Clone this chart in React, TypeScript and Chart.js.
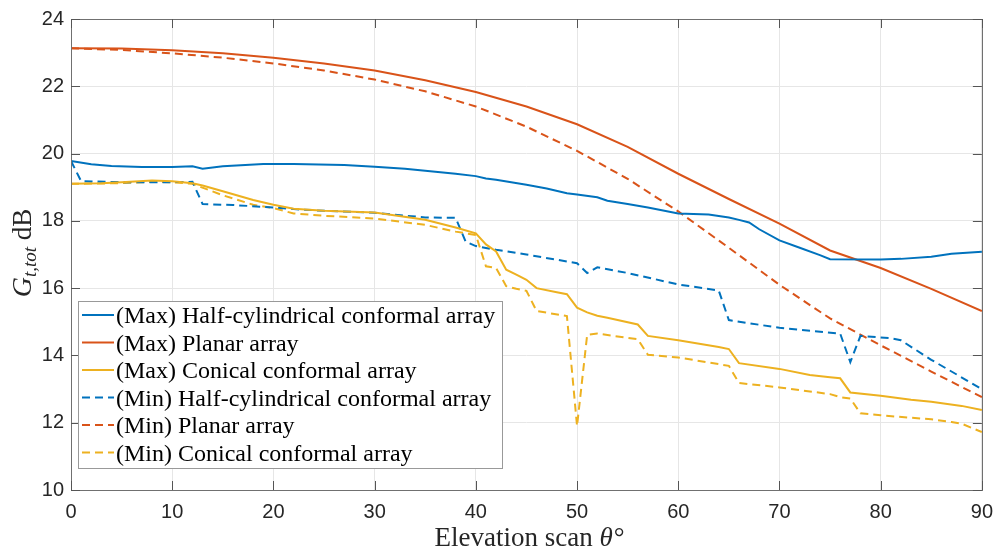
import React, { useEffect, useRef } from "react";
import { Chart, registerables } from "chart.js";

Chart.register(...registerables);

// ---- Data ----
const maxHalfCylX = [0, 2, 4, 7, 10, 12, 13, 15, 19, 22, 27, 30, 33, 35, 38, 40, 41, 42, 45, 47, 49, 50, 52, 53, 55, 57, 60, 63, 65, 66, 67, 68, 70, 72, 74, 75, 80, 82, 85, 87, 90];
const maxHalfCylY = [19.78, 19.68, 19.63, 19.6, 19.6, 19.62, 19.55, 19.62, 19.69, 19.69, 19.66, 19.61, 19.55, 19.49, 19.4, 19.33, 19.26, 19.22, 19.07, 18.96, 18.82, 18.78, 18.7, 18.6, 18.5, 18.4, 18.22, 18.19, 18.1, 18.03, 17.95, 17.75, 17.42, 17.2, 16.98, 16.86, 16.85, 16.87, 16.93, 17.02, 17.08];

const planarX = [0, 5, 10, 15, 20, 25, 30, 35, 40, 45, 50, 55, 60, 65, 70, 75, 80, 85, 90];
const maxPlanarY = [23.13, 23.12, 23.07, 22.98, 22.85, 22.68, 22.47, 22.18, 21.83, 21.4, 20.87, 20.2, 19.4, 18.65, 17.92, 17.12, 16.6, 15.98, 15.32];
const minPlanarY = [23.13, 23.08, 22.98, 22.85, 22.68, 22.47, 22.2, 21.85, 21.4, 20.8, 20.08, 19.25, 18.28, 17.2, 16.1, 15.1, 14.3, 13.52, 12.76];

const maxConicalX = [0, 3, 5, 8, 10, 12, 13, 15, 18, 20, 22, 25, 30, 35, 38, 40, 41, 42, 43, 44, 45, 46, 48, 49, 50, 51, 52, 53, 56, 57, 60, 64, 65, 66, 70, 73, 75, 76, 77, 80, 83, 85, 88, 90];
const maxConicalY = [19.1, 19.12, 19.15, 19.2, 19.18, 19.12, 19.05, 18.88, 18.62, 18.48, 18.36, 18.3, 18.25, 18.03, 17.8, 17.63, 17.3, 17.09, 16.55, 16.4, 16.25, 16.0, 15.88, 15.82, 15.42, 15.28, 15.18, 15.12, 14.92, 14.58, 14.45, 14.25, 14.19, 13.77, 13.6, 13.42, 13.35, 13.32, 12.9, 12.8, 12.68, 12.62, 12.5, 12.38];

const minHalfCylX = [0, 1, 5, 10, 12, 13, 16, 20, 22, 25, 30, 35, 38, 39, 40, 42, 45, 50, 51, 52, 55, 60, 64, 65, 70, 76, 77, 78, 81, 82, 85, 90];
const minHalfCylY = [19.78, 19.18, 19.15, 19.15, 19.16, 18.5, 18.47, 18.4, 18.35, 18.3, 18.24, 18.1, 18.09, 17.38, 17.25, 17.14, 17.0, 16.74, 16.45, 16.62, 16.45, 16.11, 15.93, 15.05, 14.82, 14.65, 13.8, 14.58, 14.51, 14.45, 13.87, 13.0];

const minConicalX = [0, 5, 8, 10, 12, 15, 18, 20, 22, 25, 30, 35, 38, 40, 41, 42, 43, 44, 45, 46, 49, 50, 51, 52, 56, 57, 60, 65, 66, 70, 75, 76, 77, 78, 80, 85, 87, 88, 90];
const minConicalY = [19.1, 19.12, 19.16, 19.15, 19.1, 18.76, 18.48, 18.38, 18.22, 18.15, 18.07, 17.88, 17.68, 17.58, 16.65, 16.6, 16.06, 15.98, 15.92, 15.32, 15.17, 11.9, 14.61, 14.65, 14.48, 14.02, 13.94, 13.69, 13.18, 13.05, 12.85, 12.76, 12.72, 12.28, 12.22, 12.1, 12.02, 11.97, 11.72];

const seriesLabels = [
  "(Max) Half-cylindrical conformal array",
  "(Max) Planar array",
  "(Max) Conical conformal array",
  "(Min) Half-cylindrical conformal array",
  "(Min) Planar array",
  "(Min) Conical conformal array",
];
const xTicks = [0, 10, 20, 30, 40, 50, 60, 70, 80, 90];
const yTicks = [10, 12, 14, 16, 18, 20, 22, 24];

const BLUE = "#0072BD";
const RED = "#D95319";
const YELLOW = "#EDB120";
const DASH = [8, 5];

const pts = (xs: number[], ys: number[]) => xs.map((x, i) => ({ x, y: ys[i] }));

const frameAndLegend = {
  id: "frameAndLegend",
  afterDraw(chart: any) {
    const { ctx, chartArea: a, scales } = chart;
    const xs = scales.x;
    const ys = scales.y;
    ctx.save();
    // box
    ctx.strokeStyle = "#707070";
    ctx.lineWidth = 1;
    ctx.setLineDash([]);
    ctx.strokeRect(Math.round(a.left) + 0.5, Math.round(a.top) + 0.5, Math.round(a.right - a.left), Math.round(a.bottom - a.top));
    // inward ticks
    ctx.strokeStyle = "#555";
    ctx.beginPath();
    const L = 9;
    xTicks.forEach((v) => {
      const px = Math.round(xs.getPixelForValue(v)) + 0.5;
      ctx.moveTo(px, a.bottom);
      ctx.lineTo(px, a.bottom - L);
      ctx.moveTo(px, a.top);
      ctx.lineTo(px, a.top + L);
    });
    yTicks.forEach((v) => {
      const py = Math.round(ys.getPixelForValue(v)) + 0.5;
      ctx.moveTo(a.left, py);
      ctx.lineTo(a.left + L, py);
      ctx.moveTo(a.right, py);
      ctx.lineTo(a.right - L, py);
    });
    ctx.stroke();

    // legend
    const bx = 78.5, by = 301.5, bw = 424, bh = 167;
    ctx.fillStyle = "#fff";
    ctx.fillRect(bx, by, bw, bh);
    ctx.strokeStyle = "#999";
    ctx.strokeRect(bx, by, bw, bh);
    const ds = chart.data.datasets;
    ds.forEach((d: any, i: number) => {
      const cy = 315 + i * 27.5;
      ctx.beginPath();
      ctx.strokeStyle = d.borderColor;
      ctx.lineWidth = 2;
      ctx.setLineDash(d.borderDash || []);
      ctx.moveTo(82, cy);
      ctx.lineTo(114, cy);
      ctx.stroke();
      ctx.setLineDash([]);
      ctx.fillStyle = "#000";
      ctx.font = "24px 'Liberation Serif'";
      ctx.textAlign = "left";
      ctx.textBaseline = "alphabetic";
      ctx.fillText(d.label, 116, cy + 8);
    });

    // x title
    ctx.fillStyle = "#262626";
    ctx.textBaseline = "alphabetic";
    const p1 = "Elevation scan ";
    const p2 = "θ";
    const p3 = "°";
    const FS = 27;
    ctx.font = `${FS}px 'Liberation Serif'`;
    const w1 = ctx.measureText(p1).width;
    ctx.font = `italic ${FS}px 'Liberation Serif'`;
    const w2 = ctx.measureText(p2).width;
    ctx.font = `${FS}px 'Liberation Serif'`;
    const w3 = ctx.measureText(p3).width;
    let sx = 529 - (w1 + w2 + w3) / 2;
    ctx.textAlign = "left";
    ctx.font = `${FS}px 'Liberation Serif'`;
    ctx.fillText(p1, sx, 546);
    sx += w1;
    ctx.font = `italic ${FS}px 'Liberation Serif'`;
    ctx.fillText(p2, sx, 546);
    sx += w2 + 1;
    ctx.font = `${FS}px 'Liberation Serif'`;
    ctx.fillText(p3, sx, 546);

    // y title (rotated)
    ctx.translate(31, 253);
    ctx.rotate(-Math.PI / 2);
    const g = "G", sub = "t,tot", db = " dB";
    ctx.font = "italic 28px 'Liberation Serif'";
    const wg = ctx.measureText(g).width;
    ctx.font = "italic 19px 'Liberation Serif'";
    const ws = ctx.measureText(sub).width;
    ctx.font = "27px 'Liberation Serif'";
    const wd = ctx.measureText(db).width;
    let tx = -(wg + ws + wd) / 2;
    ctx.font = "italic 28px 'Liberation Serif'";
    ctx.fillText(g, tx, 0);
    tx += wg;
    ctx.font = "italic 19px 'Liberation Serif'";
    ctx.fillText(sub, tx, 5);
    tx += ws;
    ctx.font = "27px 'Liberation Serif'";
    ctx.fillText(db, tx, 0);
    ctx.restore();
  },
};

export default function App() {
  const ref = useRef<HTMLCanvasElement>(null);
  useEffect(() => {
    if (!ref.current) return;
    const mk = (label: string, xs: number[], ys: number[], color: string, dashed: boolean) => ({
      label,
      data: pts(xs, ys),
      borderColor: color,
      backgroundColor: color,
      borderWidth: 2,
      borderDash: dashed ? DASH : [],
      pointRadius: 0,
      tension: 0,
      fill: false,
    });
    const chart = new Chart(ref.current, {
      type: "line",
      data: {
        datasets: [
          mk(seriesLabels[0], maxHalfCylX, maxHalfCylY, BLUE, false),
          mk(seriesLabels[1], planarX, maxPlanarY, RED, false),
          mk(seriesLabels[2], maxConicalX, maxConicalY, YELLOW, false),
          mk(seriesLabels[3], minHalfCylX, minHalfCylY, BLUE, true),
          mk(seriesLabels[4], planarX, minPlanarY, RED, true),
          mk(seriesLabels[5], minConicalX, minConicalY, YELLOW, true),
        ],
      },
      options: {
        animation: false,
        responsive: false,
        maintainAspectRatio: false,
        layout: { padding: { top: 16, right: 15, left: 0, bottom: 0 } },
        plugins: { legend: { display: false }, tooltip: { enabled: false } },
        scales: {
          x: {
            type: "linear",
            min: 0,
            max: 90,
            afterFit: (s: any) => { s.height = 63; },
            afterBuildTicks: (s: any) => { s.ticks = xTicks.map((v) => ({ value: v })); },
            ticks: { padding: 10, color: "#262626", font: { family: "'Liberation Sans'", size: 20 } },
            grid: { color: "#e6e6e6", drawTicks: false, lineWidth: 1 },
            border: { display: false },
          },
          y: {
            type: "linear",
            min: 10,
            max: 24,
            afterFit: (s: any) => { s.width = 71; },
            afterBuildTicks: (s: any) => { s.ticks = yTicks.map((v) => ({ value: v })); },
            ticks: { padding: 7, color: "#262626", font: { family: "'Liberation Sans'", size: 20 } },
            grid: { color: "#e6e6e6", drawTicks: false, lineWidth: 1 },
            border: { display: false },
          },
        },
      },
      plugins: [frameAndLegend],
    });
    return () => chart.destroy();
  }, []);
  return (
    <div style={{ position: "fixed", left: 0, top: 0, width: 1003, height: 553, background: "#fff" }}>
      <canvas ref={ref} width={1003} height={553} style={{ width: 1003, height: 553, display: "block" }} />
    </div>
  );
}
